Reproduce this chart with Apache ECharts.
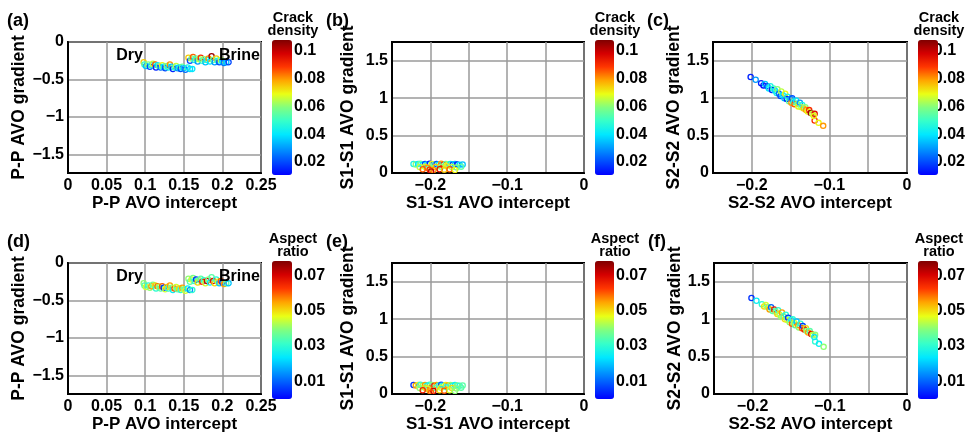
<!DOCTYPE html>
<html><head><meta charset="utf-8">
<script src="https://cdn.jsdelivr.net/npm/echarts@6/dist/echarts.min.js"></script>
<style>html,body{margin:0;padding:0;background:#fff}#c{width:968px;height:436px}</style>
</head><body><div id="c"></div>
<script>
// ---------- DATA ----------
// P-P AVO (panels a, d): Dry cluster then Brine cluster
const ppIntercept = [0.098,0.099,0.101,0.104,0.106,0.108,0.110,0.113,0.114,0.116,0.118,0.120,0.122,0.124,0.126,0.128,0.130,0.132,0.134,0.136,0.138,0.140,0.142,0.144,0.146,0.148,0.150,0.152,0.155,0.158,0.161,
  0.156,0.158,0.160,0.162,0.164,0.166,0.168,0.170,0.172,0.174,0.176,0.178,0.180,0.182,0.184,0.186,0.188,0.190,0.192,0.194,0.196,0.198,0.200,0.202,0.205,0.208];
const ppGradient = [-0.27,-0.30,-0.32,-0.30,-0.33,-0.31,-0.29,-0.30,-0.34,-0.31,-0.32,-0.34,-0.31,-0.33,-0.35,-0.32,-0.34,-0.30,-0.33,-0.36,-0.34,-0.32,-0.35,-0.34,-0.36,-0.33,-0.35,-0.37,-0.34,-0.36,-0.36,
  -0.21,-0.25,-0.22,-0.20,-0.24,-0.22,-0.26,-0.23,-0.21,-0.25,-0.23,-0.27,-0.24,-0.22,-0.26,-0.19,-0.24,-0.27,-0.22,-0.25,-0.27,-0.24,-0.26,-0.28,-0.27,-0.27];
const ppCrack = [0.075,0.05,0.035,0.06,0.02,0.045,0.065,0.085,0.015,0.04,0.055,0.025,0.07,0.04,0.02,0.06,0.045,0.08,0.035,0.015,0.05,0.065,0.03,0.04,0.02,0.055,0.035,0.025,0.045,0.038,0.04,
  0.075,0.02,0.06,0.085,0.045,0.055,0.03,0.065,0.09,0.05,0.06,0.035,0.045,0.08,0.04,0.105,0.055,0.03,0.075,0.045,0.02,0.065,0.04,0.025,0.035,0.02];
const ppAspect = [0.04,0.035,0.045,0.03,0.04,0.055,0.038,0.05,0.03,0.058,0.042,0.035,0.06,0.005,0.045,0.05,0.03,0.055,0.04,0.025,0.06,0.045,0.035,0.05,0.03,0.055,0.04,0.045,0.025,0.015,0.03,
  0.04,0.035,0.045,0.038,0.03,0.005,0.05,0.04,0.035,0.065,0.03,0.045,0.07,0.04,0.025,0.035,0.068,0.05,0.03,0.045,0.02,0.06,0.005,0.055,0.035,0.02];

// S1-S1 AVO (panels b, e)
const s1Intercept = [-0.222,-0.219,-0.216,-0.213,-0.210,-0.207,-0.204,-0.201,-0.198,-0.195,-0.192,-0.189,-0.186,-0.183,-0.180,-0.177,-0.174,-0.171,-0.168,-0.165,-0.162,-0.158,
  -0.214,-0.207,-0.200,-0.193,-0.186,-0.179,-0.172,-0.166,-0.160,-0.204,
  -0.210,-0.201,-0.196,-0.188,-0.182,-0.175,-0.168,-0.199];
const s1Gradient = [0.12,0.115,0.12,0.125,0.11,0.12,0.115,0.125,0.12,0.11,0.12,0.115,0.125,0.11,0.12,0.115,0.12,0.11,0.12,0.115,0.11,0.115,
  0.08,0.085,0.075,0.08,0.085,0.09,0.08,0.075,0.085,0.07,
  0.05,0.045,0.04,0.05,0.045,0.05,0.04,0.02];
const s1Crack = [0.045,0.06,0.04,0.055,0.04,0.02,0.045,0.015,0.07,0.055,0.02,0.04,0.08,0.09,0.055,0.065,0.04,0.02,0.035,0.015,0.04,0.035,
  0.065,0.07,0.06,0.075,0.06,0.07,0.065,0.06,0.055,0.08,
  0.085,0.09,0.08,0.095,0.075,0.085,0.07,0.1];
const s1Aspect = [0.005,0.055,0.048,0.03,0.04,0.055,0.025,0.03,0.04,0.065,0.055,0.03,0.01,0.028,0.048,0.055,0.04,0.03,0.025,0.038,0.03,0.035,
  0.04,0.05,0.06,0.035,0.045,0.03,0.05,0.04,0.035,0.045,
  0.065,0.055,0.07,0.05,0.06,0.045,0.04,0.06];

// S2-S2 AVO (panels c, f)
const s2Intercept = [-0.2015,-0.195,-0.188,-0.185,-0.183,-0.180,-0.178,-0.176,-0.174,-0.172,-0.170,-0.168,-0.167,-0.165,-0.163,-0.162,-0.160,-0.158,-0.157,-0.155,-0.154,-0.152,-0.150,-0.149,-0.148,-0.146,-0.145,-0.143,-0.141,-0.140,-0.138,-0.136,-0.135,-0.133,-0.131,-0.130,-0.128,-0.126,-0.124,-0.122,-0.119,-0.119,-0.120,-0.114,-0.108];
const s2Gradient = [1.282,1.245,1.20,1.17,1.19,1.16,1.13,1.16,1.11,1.13,1.10,1.07,1.12,1.06,1.03,1.09,1.04,1.00,1.06,0.99,1.02,0.96,0.99,0.94,1.00,0.95,0.92,0.97,0.92,0.89,0.94,0.88,0.91,0.86,0.88,0.84,0.82,0.84,0.80,0.79,0.79,0.70,0.76,0.67,0.63];
const s2Crack = [0.015,0.03,0.015,0.012,0.035,0.02,0.04,0.045,0.015,0.05,0.038,0.045,0.06,0.025,0.02,0.065,0.04,0.035,0.07,0.015,0.045,0.055,0.03,0.08,0.02,0.05,0.085,0.04,0.06,0.07,0.03,0.065,0.045,0.075,0.06,0.08,0.07,0.09,0.105,0.065,0.095,0.09,0.07,0.07,0.08];
const s2Aspect = [0.005,0.025,0.03,0.05,0.045,0.04,0.055,0.01,0.035,0.065,0.04,0.05,0.03,0.045,0.04,0.055,0.035,0.05,0.03,0.045,0.005,0.04,0.025,0.06,0.03,0.045,0.035,0.02,0.055,0.04,0.03,0.06,0.005,0.065,0.05,0.04,0.055,0.035,0.07,0.045,0.04,0.03,0.025,0.025,0.04];

// Annotations (panels a, d)
const annoText = ['Dry', 'Brine'];
const annoX = [0.0797, 0.222];
const annoY = [-0.185, -0.185];

// Tick values
const ppXTicks = [0, 0.05, 0.1, 0.15, 0.2, 0.25];
const ppYTicks = [-1.5, -1, -0.5, 0];
const sXGrid = [-0.25, -0.2, -0.15, -0.1, -0.05, 0];
const sXLabels = [-0.2, -0.1, 0];
const sYTicks = [0, 0.5, 1, 1.5];
const crackTicks = [0.02, 0.04, 0.06, 0.08, 0.1];
const aspectTicks = [0.01, 0.03, 0.05, 0.07];

// ---------- CHART ----------
const FONT = "'Liberation Sans', Arial, Helvetica, sans-serif";
const jet = ['#0000ff','#004dff','#009bff','#00e8ff','#35ffca','#80ff80','#eaff15','#ffa600','#ff3700','#d50000','#800000'];
const zip = (a, b, c) => a.map((v, i) => [v, b[i], c[i]]);
const minus = v => String(v).replace('-', '\u2212');

const cbar = {
  crack: { min: 0.0106, max: 0.108, ticks: crackTicks, name: 'Crack\ndensity' },
  aspect: { min: 0, max: 0.078, ticks: aspectTicks, name: 'Aspect\nratio' }
};

const row1 = { top: 42, height: 131, cbTop: 40, cbH: 135 };
const row2 = { top: 263, height: 131, cbTop: 261, cbH: 138 };

const panels = [
  { letter:'(a)', row:row1, left:68, width:193, cbLeft:272, cbW:20, xr:[0,0.25], yr:[-1.75,0], xg:ppXTicks, xl:ppXTicks, yg:ppYTicks, yl:ppYTicks,
    xName:'P-P AVO intercept', yName:'P-P AVO gradient', yGap:38, data:zip(ppIntercept, ppGradient, ppCrack), cb:cbar.crack, anno:true },
  { letter:'(b)', row:row1, left:392, width:192, cbLeft:595, cbW:19, xr:[-0.25,0], yr:[0,1.75], xg:sXGrid, xl:sXLabels, yg:sYTicks, yl:sYTicks,
    xName:'S1-S1 AVO intercept', yName:'S1-S1 AVO gradient', yGap:35, data:zip(s1Intercept, s1Gradient, s1Crack), cb:cbar.crack },
  { letter:'(c)', row:row1, left:713, width:194, cbLeft:918, cbW:20, xr:[-0.25,0], yr:[0,1.75], xg:sXGrid, xl:sXLabels, yg:sYTicks, yl:sYTicks,
    xName:'S2-S2 AVO intercept', yName:'S2-S2 AVO gradient', yGap:30, data:zip(s2Intercept, s2Gradient, s2Crack), cb:cbar.crack },
  { letter:'(d)', row:row2, left:68, width:193, cbLeft:272, cbW:20, xr:[0,0.25], yr:[-1.75,0], xg:ppXTicks, xl:ppXTicks, yg:ppYTicks, yl:ppYTicks,
    xName:'P-P AVO intercept', yName:'P-P AVO gradient', yGap:38, data:zip(ppIntercept, ppGradient, ppAspect), cb:cbar.aspect, anno:true },
  { letter:'(e)', row:row2, left:392, width:192, cbLeft:595, cbW:19, xr:[-0.25,0], yr:[0,1.75], xg:sXGrid, xl:sXLabels, yg:sYTicks, yl:sYTicks,
    xName:'S1-S1 AVO intercept', yName:'S1-S1 AVO gradient', yGap:35, data:zip(s1Intercept, s1Gradient, s1Aspect), cb:cbar.aspect },
  { letter:'(f)', row:row2, left:714, width:193, cbLeft:918, cbW:20, xr:[-0.25,0], yr:[0,1.75], xg:sXGrid, xl:sXLabels, yg:sYTicks, yl:sYTicks,
    xName:'S2-S2 AVO intercept', yName:'S2-S2 AVO gradient', yGap:30, data:zip(s2Intercept, s2Gradient, s2Aspect), cb:cbar.aspect }
];

const labelStyle = { color:'#000', fontFamily:FONT, fontWeight:'bold', fontSize:16 };
const grid = [], xAxis = [], yAxis = [], series = [], visualMap = [], graphic = [];

panels.forEach((p, i) => {
  grid.push({ left:p.left, top:p.row.top, width:p.width, height:p.row.height, show:true, borderColor:'#000', borderWidth:2, containLabel:false });
  xAxis.push({
    gridIndex: i, type:'value', min:p.xr[0], max:p.xr[1],
    axisLine:{ show:true, onZero:false, lineStyle:{ color:'#000', width:2 } },
    axisTick:{ show:false, customValues:p.xg },
    splitLine:{ show:true, lineStyle:{ color:'#9a9a9a', width:1.5 } },
    axisLabel:Object.assign({ customValues:p.xl, margin:5, formatter:minus }, labelStyle),
    name:p.xName, nameLocation:'middle', nameGap:21,
    nameTextStyle:{ color:'#000', fontFamily:FONT, fontWeight:'bold', fontSize:17 }
  });
  yAxis.push({
    gridIndex: i, type:'value', min:p.yr[0], max:p.yr[1],
    axisLine:{ show:true, onZero:false, lineStyle:{ color:'#000', width:2 } },
    axisTick:{ show:false, customValues:p.yg },
    splitLine:{ show:true, lineStyle:{ color:'#9a9a9a', width:1.5 } },
    axisLabel:Object.assign({ customValues:p.yl, margin:4, formatter:minus }, labelStyle),
    name:p.yName, nameLocation:'middle', nameGap:p.yGap,
    nameTextStyle:{ color:'#000', fontFamily:FONT, fontWeight:'bold', fontSize:17.5 }
  });
  series.push({
    type:'custom', xAxisIndex:i, yAxisIndex:i, data:p.data, clip:true, silent:true,
    dimensions:['x','y','v'], encode:{ x:0, y:1 },
    renderItem:(params, api) => {
      const pt = api.coord([api.value(0), api.value(1)]);
      return { type:'circle', shape:{ cx:pt[0], cy:pt[1], r:2.6 },
        style:{ fill:'none', stroke:api.visual('color'), lineWidth:1.3 } };
    }
  });
  visualMap.push({
    type:'continuous', seriesIndex:i, dimension:2, min:p.cb.min, max:p.cb.max,
    inRange:{ color:jet }, left:p.cbLeft, top:p.row.cbTop, itemWidth:p.cbW, itemHeight:p.row.cbH,
    calculable:false, text:null, padding:0, hoverLink:false, realtime:false, showLabel:false
  });
});

// colorbar label axes + titles + panel letters
panels.forEach((p, i) => {
  const gi = grid.length;
  grid.push({ left:p.cbLeft, top:p.row.cbTop, width:p.cbW, height:p.row.cbH, show:false });
  xAxis.push({ gridIndex:gi, type:'value', show:false, min:0, max:1 });
  yAxis.push({
    gridIndex:gi, type:'value', position:'right', min:p.cb.min, max:p.cb.max,
    axisLine:{ show:false }, axisTick:{ show:false, customValues:p.cb.ticks }, splitLine:{ show:false },
    axisLabel:Object.assign({ customValues:p.cb.ticks, margin:2 }, labelStyle)
  });
  graphic.push({ type:'text', x: p.cbLeft + p.cbW + 1, y: p.row.cbTop - 3,
    style:{ text:p.cb.name, fill:'#000', font:'bold 14.5px ' + FONT, align:'center', verticalAlign:'bottom', lineHeight:13 } });
  graphic.push({ type:'text', left: p.left < 100 ? 7 : p.left - 66, top: p.row.top - 30,
    style:{ text:p.letter, fill:'#000', font:'bold 18px ' + FONT } });
});

// annotations (text placed through the axes' coordinate system)
panels.forEach((p, i) => {
  if (!p.anno) return;
  series.push({
    type:'custom', xAxisIndex:i, yAxisIndex:i, silent:true, clip:false,
    data: annoText.map((t, k) => [annoX[k], annoY[k], k]),
    renderItem:(params, api) => {
      const pt = api.coord([api.value(0), api.value(1)]);
      return { type:'text', x:pt[0], y:pt[1],
        style:{ text: annoText[api.value(2)], fill:'#000', font:'bold 16px ' + FONT, align:'center', verticalAlign:'middle' } };
    }
  });
});

const chart = echarts.init(document.getElementById('c'), null, { renderer:'canvas' });
chart.setOption({ animation:false, backgroundColor:'#fff', grid, xAxis, yAxis, series, visualMap, graphic });
</script>
</body></html>
